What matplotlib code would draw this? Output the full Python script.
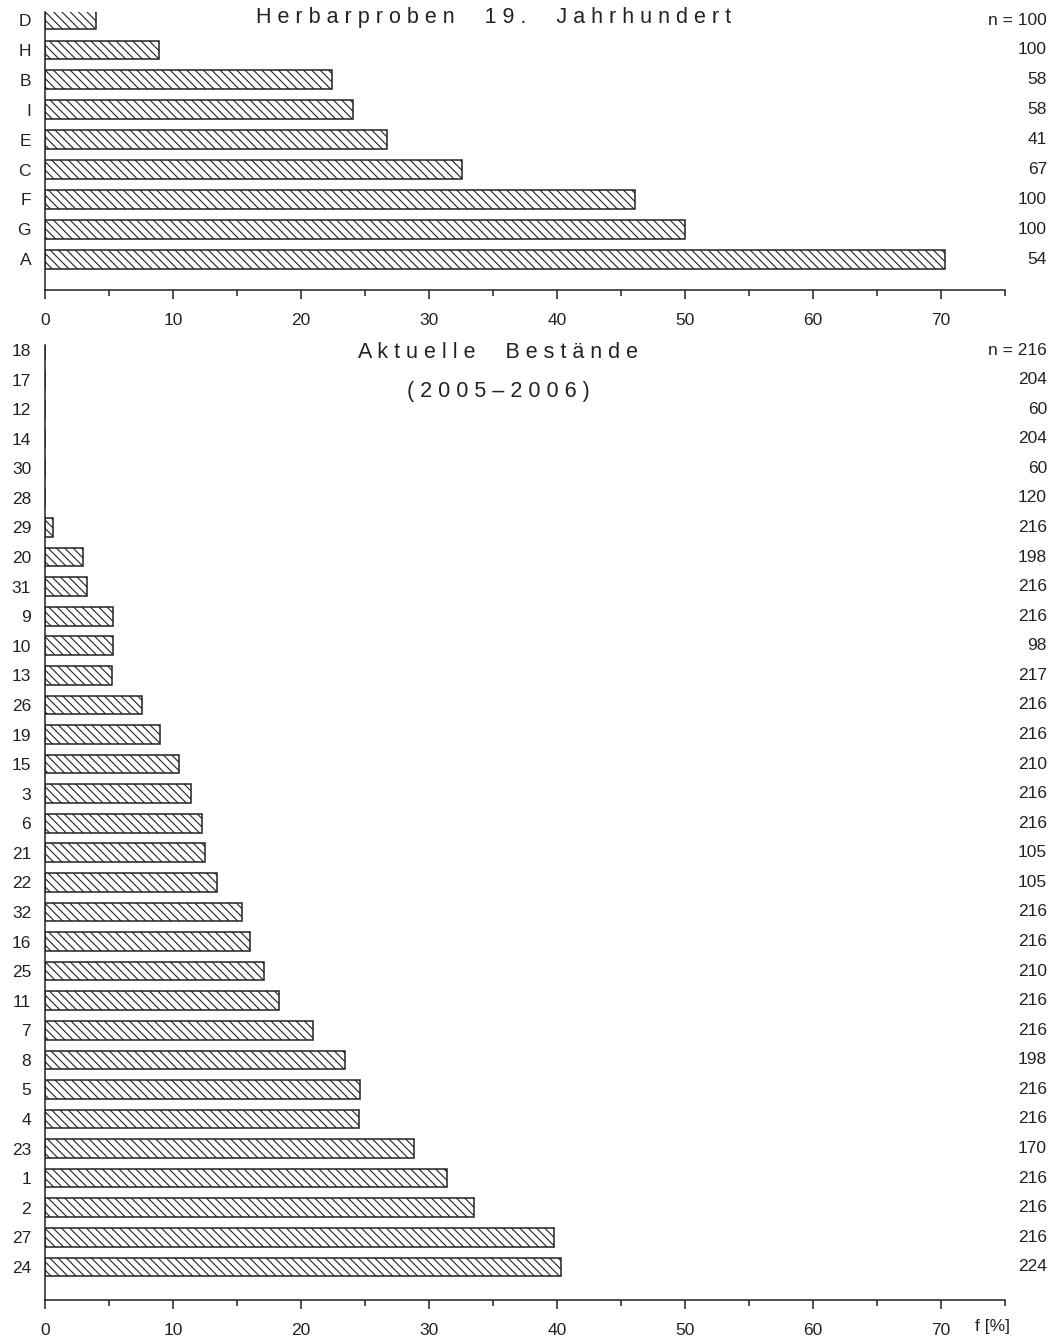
import matplotlib
matplotlib.use("Agg")
import matplotlib.pyplot as plt
import matplotlib.transforms as mtransforms
from matplotlib.ticker import MultipleLocator

# Herbarproben 19. Jahrhundert (von oben nach unten)
herbar_labels = ["D", "H", "B", "I", "E", "C", "F", "G", "A"]
herbar_werte = [4.0, 8.9, 22.4, 24.1, 26.7, 32.6, 46.1, 50.0, 70.3]
herbar_n = ["n = 100", "100", "58", "58", "41", "67", "100", "100", "54"]

# Aktuelle Bestaende 2005-2006 (von oben nach unten)
aktuell_labels = ["18", "17", "12", "14", "30", "28", "29", "20", "31", "9", "10",
                  "13", "26", "19", "15", "3", "6", "21", "22", "32", "16", "25",
                  "11", "7", "8", "5", "4", "23", "1", "2", "27", "24"]
aktuell_werte = [0, 0, 0, 0, 0, 0, 0.6, 2.95, 3.3, 5.3, 5.3,
                 5.2, 7.6, 9.0, 10.5, 11.4, 12.3, 12.5, 13.4, 15.4, 16.0, 17.1,
                 18.3, 20.9, 23.4, 24.6, 24.5, 28.8, 31.4, 33.5, 39.8, 40.3]
aktuell_n = ["n = 216", "204", "60", "204", "60", "120", "216", "198", "216", "216", "98",
             "217", "216", "216", "210", "216", "216", "105", "105", "216", "216", "210",
             "216", "216", "198", "216", "216", "170", "216", "216", "216", "224"]

x_ticks = [0, 10, 20, 30, 40, 50, 60, 70]

plt.rcParams["font.family"] = ["Liberation Sans", "DejaVu Sans"]
plt.rcParams["hatch.linewidth"] = 0.8
plt.rcParams["hatch.color"] = "#222222"

W, H = 1060, 1337
fig = plt.figure(figsize=(W / 100, H / 100), dpi=100)

ax1 = fig.add_axes([45 / W, 1 - 290 / H, 960 / W, 278 / H])
ax2 = fig.add_axes([45 / W, 1 - 1300 / H, 960 / W, 955 / H])


def balken(ax, labels, werte, n_texte, ymin, ymax, fs_y, tick_font):
    pos = list(range(len(labels) - 1, -1, -1))
    ax.barh(pos, werte, height=0.63, color="white", edgecolor="#222222",
            linewidth=1.1, hatch="\\\\\\\\")
    ax.set_ylim(ymin, ymax)
    ax.set_xlim(0, 75)
    ax.set_yticks(pos)
    ax.set_yticklabels(labels, fontsize=fs_y, color="#222222")
    ax.tick_params(axis="y", length=0, pad=10)
    ax.set_xticks(x_ticks)
    ax.xaxis.set_minor_locator(MultipleLocator(5))
    ax.tick_params(axis="x", which="major", direction="out", length=6.5,
                   width=1.1, pad=10, labelsize=12.5, color="#222222",
                   labelcolor="#222222")
    ax.tick_params(axis="x", which="minor", direction="out", length=4.5,
                   width=1.1, color="#222222")
    for lab in ax.get_xticklabels():
        lab.set_family(tick_font)
    for s in ["top", "right"]:
        ax.spines[s].set_visible(False)
    for s in ["left", "bottom"]:
        ax.spines[s].set_linewidth(1.1)
        ax.spines[s].set_color("#222222")
    trans = mtransforms.blended_transform_factory(fig.transFigure, ax.transData)
    for p, t in zip(pos, n_texte):
        ax.text(1047 / W, p, t, transform=trans, ha="right", va="center",
                fontsize=12.5, color="#222222", clip_on=False)


balken(ax1, herbar_labels, herbar_werte, herbar_n, -1.03, 8.27, 12.5,
       ["Liberation Sans", "DejaVu Sans"])
balken(ax2, aktuell_labels, aktuell_werte, aktuell_n, -1.12, 31.17, 12.5,
       ["Liberation Sans Narrow", "Liberation Sans", "DejaVu Sans"])

fig.text(494 / W, 1 - 18 / H,
         "H e r b a r p r o b e n     1 9 .     J a h r h u n d e r t",
         ha="center", va="center", fontsize=15.5, color="#222222")
fig.text(498 / W, 1 - 352 / H, "A k t u e l l e     B e s t ä n d e",
         ha="center", va="center", fontsize=15.5, color="#222222")
fig.text(498 / W, 1 - 392 / H, "( 2 0 0 5 – 2 0 0 6 )",
         ha="center", va="center", fontsize=15.5, color="#222222")
fig.text(975 / W, 1 - 1327 / H, "f [%]", ha="left", va="center",
         fontsize=12.5, color="#222222",
         family=["Liberation Sans Narrow", "Liberation Sans", "DejaVu Sans"])

fig.savefig("out.png", dpi=100, facecolor="white")
